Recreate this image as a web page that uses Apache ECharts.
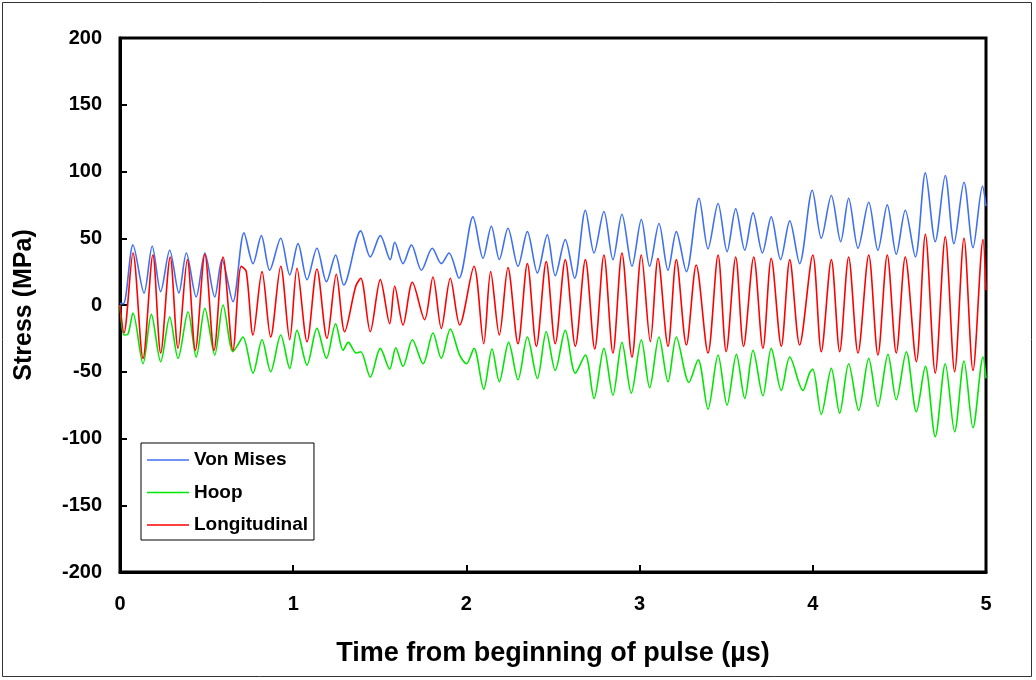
<!DOCTYPE html>
<html>
<head>
<meta charset="utf-8">
<script src="https://cdn.jsdelivr.net/npm/echarts@6/dist/echarts.min.js"></script>
<style>
html,body{margin:0;padding:0;background:#fff;}
#chart{width:1036px;height:680px;}
</style>
</head>
<body>
<div id="chart"></div>
<script>
// Axis settings
const xTicks = [0, 1, 2, 3, 4, 5];
const yTicks = [-200, -150, -100, -50, 0, 50, 100, 150, 200];
const seriesNames = ['Von Mises', 'Hoop', 'Longitudinal'];

// [time (µs), stress (MPa)]
const vonMises = [[0,1],[0.02,1],[0.075,45],[0.139,9],[0.186,44],[0.235,10],[0.287,41],[0.34,9],[0.383,39],[0.44,6],[0.49,39],[0.547,6],[0.589,34],[0.652,2.5],[0.716,54],[0.768,31],[0.816,52],[0.864,26],[0.928,50],[0.98,22.5],[1.028,46],[1.08,19],[1.137,42.5],[1.192,17.5],[1.245,37.5],[1.292,15],[1.39,55.5],[1.445,36],[1.503,52],[1.56,34],[1.586,47],[1.634,31],[1.683,45],[1.74,26],[1.803,42.5],[1.855,31],[1.9,39],[1.957,20],[2.038,66],[2.096,35],[2.144,59],[2.19,34],[2.24,57.5],[2.298,29],[2.352,55],[2.41,24],[2.467,52.5],[2.513,22],[2.571,49],[2.625,20],[2.687,71],[2.737,39],[2.794,70],[2.846,34],[2.898,68],[2.956,29],[3.01,64],[3.058,29],[3.112,61],[3.164,26],[3.212,55],[3.27,25],[3.343,80],[3.395,42],[3.453,76],[3.505,40],[3.555,72],[3.607,41],[3.655,69],[3.709,39],[3.76,66],[3.814,34],[3.867,63],[3.924,31],[3.997,86],[4.049,50],[4.107,82],[4.161,47.5],[4.207,80],[4.261,42.5],[4.323,77],[4.376,41],[4.43,75],[4.482,38],[4.534,71],[4.592,36],[4.65,99],[4.707,47.5],[4.765,97],[4.815,46],[4.873,92],[4.925,43],[4.98,89],[5.0,74]];

const hoop = [[0,0],[0.023,-22.5],[0.045,-22],[0.075,-6],[0.133,-44],[0.181,-7],[0.235,-42.5],[0.287,-9],[0.335,-40],[0.393,-5],[0.44,-39],[0.49,-2.5],[0.547,-37.5],[0.595,0],[0.652,-35],[0.68,-30],[0.71,-24],[0.768,-51],[0.82,-26],[0.87,-50],[0.928,-22.5],[0.98,-47.5],[1.022,-19],[1.08,-45],[1.137,-17.5],[1.192,-40],[1.245,-14],[1.288,-34],[1.318,-28],[1.364,-36],[1.39,-35],[1.445,-54],[1.503,-32.5],[1.557,-48],[1.592,-32],[1.634,-46],[1.688,-26],[1.75,-44],[1.807,-21],[1.855,-40],[1.907,-18],[1.961,-37.5],[2.0,-44],[2.044,-32.5],[2.1,-63],[2.148,-33],[2.19,-57.5],[2.244,-28],[2.298,-56],[2.352,-24],[2.41,-55],[2.461,-20],[2.513,-49],[2.571,-19],[2.629,-51],[2.687,-37.5],[2.737,-70],[2.794,-32.5],[2.846,-67.5],[2.898,-28],[2.952,-66],[3.01,-26],[3.058,-62],[3.112,-24],[3.164,-57.5],[3.212,-24],[3.285,-58],[3.338,-41],[3.395,-78],[3.453,-37.5],[3.505,-75],[3.559,-37],[3.607,-70],[3.655,-34],[3.712,-68],[3.76,-32.5],[3.818,-64],[3.867,-39],[3.943,-64],[3.981,-51],[4.0,-48],[4.049,-82],[4.107,-47.5],[4.155,-81],[4.207,-44],[4.265,-79],[4.323,-40],[4.376,-76],[4.434,-37],[4.482,-71],[4.54,-35],[4.598,-80],[4.65,-46],[4.707,-98.6],[4.765,-44],[4.819,-95],[4.873,-42],[4.925,-92],[4.983,-39],[5.0,-55]];

const longitudinal = [[0,0],[0.023,-21],[0.075,39],[0.133,-40],[0.19,37.5],[0.235,-36],[0.29,36],[0.335,-32.5],[0.389,34],[0.435,-34],[0.49,38],[0.543,-34],[0.595,36],[0.652,-34],[0.70,29],[0.729,25],[0.768,-22.5],[0.82,25],[0.87,-24],[0.928,29],[0.98,-26],[1.022,27.5],[1.08,-27.5],[1.137,27],[1.195,-25],[1.249,23],[1.297,-20],[1.361,14],[1.39,20],[1.445,-20],[1.503,19],[1.557,-14],[1.586,14],[1.634,-15],[1.688,17],[1.759,-11],[1.807,21],[1.855,-17.5],[1.907,20],[1.961,-15],[2.044,29],[2.10,-29],[2.14,25],[2.19,-22.5],[2.24,28],[2.298,-29],[2.352,31],[2.404,-31],[2.461,32.5],[2.513,-29],[2.571,34],[2.629,-31],[2.687,34],[2.741,-33],[2.794,37.5],[2.846,-36],[2.898,39],[2.956,-39],[3.01,37.5],[3.062,-27.5],[3.106,35],[3.164,-31],[3.212,34],[3.27,-30],[3.327,30],[3.395,-36],[3.453,37.5],[3.50,-35],[3.555,36],[3.60,-31],[3.659,36],[3.712,-32.5],[3.76,35],[3.818,-31],[3.867,34],[3.924,-30],[4.0,37.5],[4.049,-35],[4.107,34],[4.155,-35],[4.207,36],[4.261,-36],[4.323,37.5],[4.376,-37.5],[4.43,37.5],[4.482,-36],[4.534,36],[4.598,-42.5],[4.65,53],[4.707,-51],[4.765,51],[4.819,-50],[4.873,50],[4.925,-49],[4.983,49],[5.0,11]];

const colors = ['#3F6FF2', '#00E600', '#FF0000'];
const FONT = '"Liberation Sans", Arial, sans-serif';

const chart = echarts.init(document.getElementById('chart'), null, {renderer: 'canvas'});
const lineSeries = (name, data, color) => ({
  name, type: 'line', data, symbol: 'none', smooth: 0.3,
  lineStyle: {color, width: 1.6}, itemStyle: {color},
  z: 3
});

chart.setOption({
  animation: false,
  backgroundColor: '#fff',
  color: colors,
  graphic: [{
    type: 'rect', shape: {x: 2.5, y: 2.5, width: 1029, height: 674},
    style: {fill: null, stroke: '#333', lineWidth: 1}, silent: true, z: -1
  }],
  grid: {left: 120, top: 38, right: 50, bottom: 108, show: true, borderColor: '#000', borderWidth: 3, backgroundColor: 'transparent'},
  legend: {
    orient: 'vertical', left: 141, top: 443,
    data: seriesNames,
    icon: 'rect',
    itemWidth: 42, itemHeight: 1.6, itemGap: 12.5,
    padding: [7, 6, 5, 6],
    borderColor: '#000', borderWidth: 1, backgroundColor: '#fff',
    textStyle: {fontFamily: FONT, fontWeight: 'bold', fontSize: 19, lineHeight: 20, color: '#000'}
  },
  xAxis: {
    type: 'value', min: xTicks[0], max: xTicks[xTicks.length - 1], interval: 1,
    name: 'Time from beginning of pulse (µs)', nameLocation: 'middle', nameGap: 68,
    nameTextStyle: {fontFamily: FONT, fontWeight: 'bold', fontSize: 27, color: '#000'},
    axisLine: {onZero: false, lineStyle: {color: '#000', width: 3}},
    axisTick: {inside: true, length: 7, lineStyle: {color: '#000', width: 2}},
    axisLabel: {fontFamily: FONT, fontWeight: 'bold', fontSize: 20, color: '#000', margin: 22},
    splitLine: {show: false}
  },
  yAxis: {
    type: 'value', min: yTicks[0], max: yTicks[yTicks.length - 1], interval: 50,
    name: 'Stress (MPa)', nameLocation: 'middle', nameGap: 83, nameRotate: 90,
    nameTextStyle: {fontFamily: FONT, fontWeight: 'bold', fontSize: 25, color: '#000'},
    axisLine: {onZero: false, lineStyle: {color: '#000', width: 3}},
    axisTick: {inside: true, length: 7, lineStyle: {color: '#000', width: 2}},
    axisLabel: {fontFamily: FONT, fontWeight: 'bold', fontSize: 20, color: '#000', margin: 18},
    splitLine: {show: false}
  },
  series: [
    lineSeries(seriesNames[0], vonMises, colors[0]),
    lineSeries(seriesNames[1], hoop, colors[1]),
    lineSeries(seriesNames[2], longitudinal, colors[2])
  ]
});
</script>
</body>
</html>
